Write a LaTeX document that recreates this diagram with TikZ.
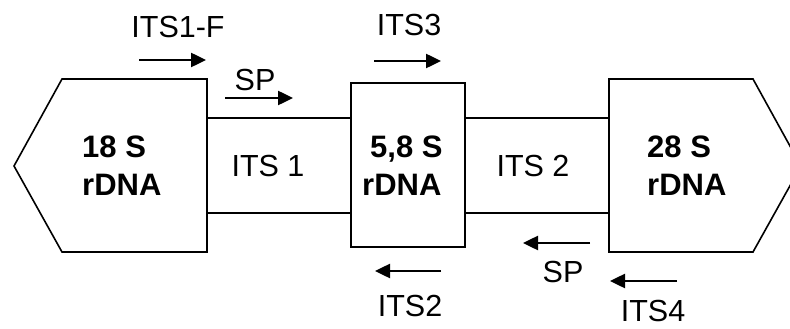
\documentclass[tikz,border=0pt]{standalone}
\usepackage{fontspec}
\setmainfont{Liberation Sans}
\usetikzlibrary{arrows.meta}
\begin{document}
\begin{tikzpicture}[x=1pt,y=-1pt,
  boxline/.style={draw=black,line width=1.6pt,line join=miter},
  primer/.style={line width=2.5pt,-{Triangle[length=15pt,width=14pt]}},
  lbl/.style={font=\fontsize{30.5}{32}\selectfont,inner sep=0pt},
  blbl/.style={font=\fontsize{31}{38}\selectfont\bfseries,align=left,inner sep=0pt,anchor=west}]
\useasboundingbox (0,0) rectangle (790,329);
% shapes
\draw[boxline,fill=white] (14,166) -- (62,79) -- (207,79) -- (207,252) -- (62,252) -- cycle;
\draw[boxline] (207,118) -- (351,118);
\draw[boxline] (207,213) -- (351,213);
\draw[boxline,fill=white] (351,83) rectangle (465,247);
\draw[boxline] (465,118) -- (609,118);
\draw[boxline] (465,213) -- (609,213);
\draw[boxline,fill=white] (609,79) -- (753,79) -- (801,166) -- (753,252) -- (609,252) -- cycle;
% texts
\node[blbl] (s18) at (82,166) {18 S\\rDNA};
\node[lbl] (its1) at (268,166) {ITS 1};
\node[blbl] (s58) at (362,166) {\hspace*{8pt}5,8 S\\rDNA};
\node[lbl] (its2) at (533,166) {ITS 2};
\node[blbl] (s28) at (647,166) {28 S\\rDNA};
% primer labels
\node[lbl] (pf) at (178,27) {ITS1-F};
\node[lbl] (psp1) at (255,80) {SP};
\node[lbl] (pits3) at (409,25) {ITS3};
\node[lbl] (pits2) at (410,306) {ITS2};
\node[lbl] (psp2) at (563,272) {SP};
\node[lbl] (pits4) at (653,311) {ITS4};
% primer arrows
\coordinate (a1s) at (139,60); \coordinate (a1e) at (206,60);
\coordinate (a2s) at (225,98); \coordinate (a2e) at (293,98);
\coordinate (a3s) at (374,61); \coordinate (a3e) at (441,61);
\coordinate (a4s) at (441,271); \coordinate (a4e) at (375,271);
\coordinate (a5s) at (590,243); \coordinate (a5e) at (523,243);
\coordinate (a6s) at (677,281); \coordinate (a6e) at (610,281);
\draw[primer] (a1s) -- (a1e);
\draw[primer] (a2s) -- (a2e);
\draw[primer] (a3s) -- (a3e);
\draw[primer] (a4s) -- (a4e);
\draw[primer] (a5s) -- (a5e);
\draw[primer] (a6s) -- (a6e);
\end{tikzpicture}
\end{document}
